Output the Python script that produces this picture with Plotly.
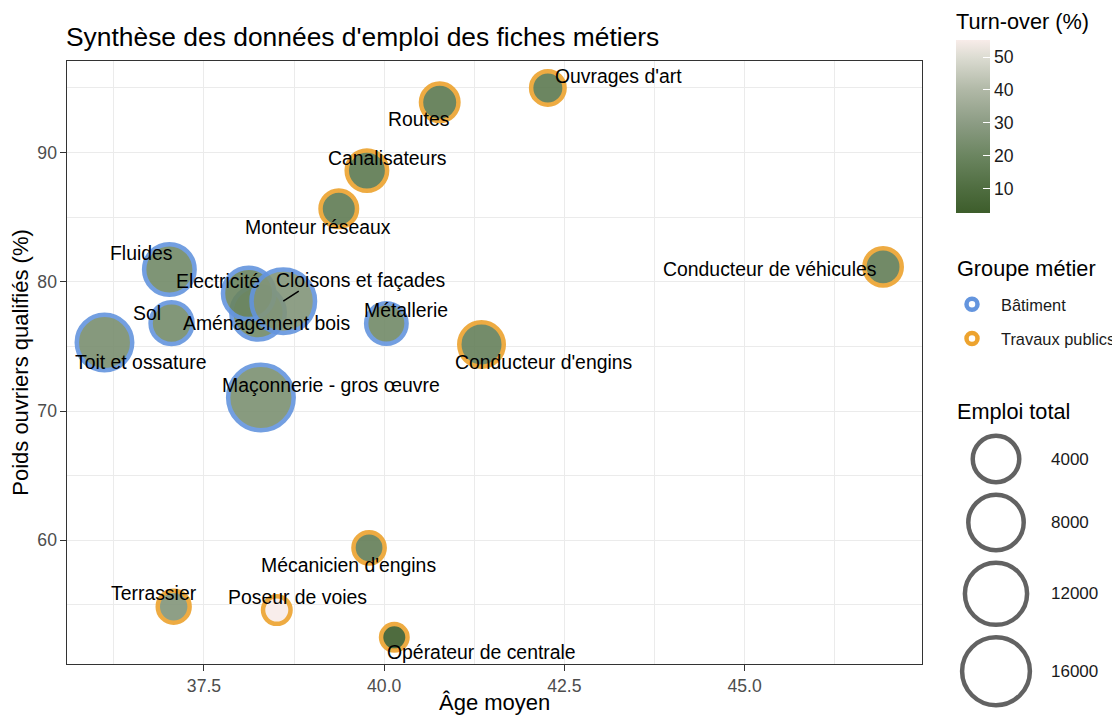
import numpy as np
import plotly.graph_objects as go

# ---------------- data ----------------
metiers = ["Aménagement bois", "Electricité", "Cloisons et façades", "Fluides", "Sol",
           "Toit et ossature", "Métallerie", "Maçonnerie - gros œuvre", "Routes",
           "Ouvrages d'art", "Canalisateurs", "Monteur réseaux", "Conducteur de véhicules",
           "Conducteur d'engins", "Mécanicien d'engins", "Terrassier", "Poseur de voies",
           "Opérateur de centrale"]
groupes = ["Bâtiment"] * 8 + ["Travaux publics"] * 10
age_moyen = [38.25, 38.12, 38.60, 37.02, 37.05, 36.12, 40.03, 38.29, 40.77,
             42.27, 39.76, 39.37, 46.92, 41.35, 39.79, 37.08, 38.51, 40.14]
poids_oq = [77.6, 79.1, 78.5, 80.95, 76.8, 75.3, 76.77, 71.05, 93.88,
            95.0, 88.6, 85.65, 81.15, 75.15, 59.42, 54.86, 54.6, 52.49]
emploi_total = [7000, 6000, 12900, 5600, 2500, 8000, 2100, 14300, 1430,
                770, 2100, 1240, 1400, 3300, 530, 590, 332, 323]
turnover = [22, 20, 27, 22, 23, 24, 22, 25, 15,
            15, 15, 16, 17, 18, 17, 27, 55.2, 2.5]

size_breaks = [4000, 8000, 12000, 16000]
x_ticks = [37.5, 40.0, 42.5, 45.0]
x_ticktext = ["37.5", "40.0", "42.5", "45.0"]
y_ticks = [60, 70, 80, 90]
cb_ticks = [10, 20, 30, 40, 50]

# label offsets (pixels, dx right, dy down) relative to each bubble
label_dx = [8, -31, 77, -28, -25, 37, 20, 70, -21, 71, 21, -21, -114, 62, -21, -20, 21, 87]
label_dy = [10, -12, -21, -17, -10, 19, -14, -12, 17, -12, -13, 18, 2, 18, 17, -14, -13, 15]

# ---------------- style ----------------
W, H = 1120, 716
OFF = 8  # page offset of the figure inside the browser page
FONT = "Liberation Sans, Arial, sans-serif"
GROUP_COL = {"Bâtiment": "#6495DE", "Travaux publics": "#EDA32E"}
colorscale = [[0.0, "#3D5D2B"], [0.14, "#4F6D40"], [0.33, "#6B8560"], [0.52, "#8C9C84"],
              [0.71, "#B0B8A6"], [0.90, "#DCDCD2"], [1.0, "#F8ECE9"]]
LINE_W = 4.5
D_MIN, K_SIZE = 31.0, 0.33
E_MIN = min(emploi_total)


def outer_diam(e):
    return D_MIN + K_SIZE * np.sqrt(np.maximum(np.asarray(e, float) - E_MIN, 0))


def fx(px):  # page pixel -> paper fraction (x)
    return (px - OFF) / W


def fy(px):  # page pixel -> paper fraction (y)
    return 1 - (px - OFF) / H


# panel frame in page pixels
PX_L, PX_R, PX_T, PX_B = 67, 922, 61, 664

fig = go.Figure()

sizes = outer_diam(emploi_total) - LINE_W
fig.add_trace(go.Scatter(
    x=age_moyen, y=poids_oq, mode="markers", text=metiers,
    hovertemplate="%{text}<extra></extra>", showlegend=False,
    marker=dict(size=sizes, sizemode="diameter", color=turnover, colorscale=colorscale,
                opacity=0.9,
                line=dict(color=[GROUP_COL[g] for g in groupes], width=LINE_W),
                showscale=True,
                colorbar=dict(
                    title=dict(text="Turn-over (%)", side="top",
                               font=dict(size=21.7, color="black", family=FONT)),
                    x=fx(956), xanchor="left", xpad=0,
                    y=fy(10), yanchor="top", ypad=0,
                    len=203, lenmode="pixels", thickness=34,
                    tickvals=cb_ticks, ticks="inside", ticklen=7, tickcolor="white",
                    tickwidth=1, outlinewidth=0,
                    tickfont=dict(size=17.6, color="#1A1A1A", family=FONT))),
))

# group legend entries
for g in ["Bâtiment", "Travaux publics"]:
    fig.add_trace(go.Scatter(
        x=[None], y=[None], mode="markers", name=g, legendgroup=g,
        marker=dict(size=11, color="white", line=dict(color=GROUP_COL[g], width=4.5))))

# size legend drawn on a page-pixel helper axis
d_leg = outer_diam(size_breaks)
leg_y = [459.0]
for i in range(1, len(d_leg)):
    leg_y.append(leg_y[-1] + (d_leg[i - 1] + d_leg[i]) / 2 + 8)
fig.add_trace(go.Scatter(
    x=[996] * len(size_breaks), y=leg_y, mode="markers", showlegend=False,
    hoverinfo="skip", xaxis="x2", yaxis="y2",
    marker=dict(size=d_leg - 4.5, color="white", line=dict(color="#202020", width=4.5))))

annotations = []
for i, v in enumerate(size_breaks):
    annotations.append(dict(x=1049, y=leg_y[i], xref="x2", yref="y2", text=str(v),
                            showarrow=False, xanchor="left", yanchor="middle",
                            font=dict(size=17, color="#1A1A1A", family=FONT)))
annotations.append(dict(x=955, y=411, xref="x2", yref="y2", text="Emploi total",
                        showarrow=False, xanchor="left", yanchor="middle",
                        font=dict(size=21.7, color="black", family=FONT)))
annotations.append(dict(x=955, y=268, xref="x2", yref="y2", text="Groupe métier",
                        showarrow=False, xanchor="left", yanchor="middle",
                        font=dict(size=21.7, color="black", family=FONT)))
# x axis title
annotations.append(dict(x=(PX_L + PX_R) / 2, y=702, xref="x2", yref="y2", text="Âge moyen",
                        showarrow=False, xanchor="center", yanchor="middle",
                        font=dict(size=22, color="black", family=FONT)))

# point labels
for i, m in enumerate(metiers):
    annotations.append(dict(x=age_moyen[i], y=poids_oq[i], xref="x", yref="y", text=m,
                            showarrow=False, xanchor="center", yanchor="middle",
                            xshift=label_dx[i], yshift=-label_dy[i],
                            font=dict(size=19.4, color="black", family=FONT)))
# leader segment for "Cloisons et façades"
ci = metiers.index("Cloisons et façades")
annotations.append(dict(x=age_moyen[ci], y=poids_oq[ci], xref="x", yref="y", text="",
                        showarrow=True, arrowhead=0, arrowwidth=1.6, arrowcolor="black",
                        ax=17, ay=-11, axref="pixel", ayref="pixel", standoff=0))

axis_common = dict(ticks="outside", ticklen=5.5, tickwidth=1.1, tickcolor="#333333",
                   tickfont=dict(size=17.6, color="#4D4D4D", family=FONT),
                   showgrid=True, gridcolor="#EBEBEB", gridwidth=1.1,
                   showline=True, mirror=True, linecolor="#333333", linewidth=1.1,
                   zeroline=False)

fig.update_layout(
    width=W, height=H, margin=dict(l=0, r=0, t=0, b=0),
    paper_bgcolor="white", plot_bgcolor="rgba(0,0,0,0)",
    font=dict(family=FONT, color="black"),
    title=dict(text="Synthèse des données d'emploi des fiches métiers", x=fx(66),
               xanchor="left", y=fy(37), yanchor="middle", xref="paper", yref="paper",
               font=dict(size=26.4, color="black", family=FONT)),
    xaxis=dict(domain=[fx(PX_L), fx(PX_R)], range=[35.60, 47.46], tickvals=x_ticks,
               ticktext=x_ticktext,
               minor=dict(dtick=1.25, tick0=36.25, showgrid=True, gridcolor="#EBEBEB",
                          gridwidth=0.55, ticks=""),
               **axis_common),
    yaxis=dict(domain=[fy(PX_B), fy(PX_T)], range=[50.43, 97.08], tickvals=y_ticks,
               minor=dict(dtick=5, tick0=55, showgrid=True, gridcolor="#EBEBEB",
                          gridwidth=0.55, ticks=""),
               title=dict(text="Poids ouvriers qualifiés (%)", standoff=2,
                          font=dict(size=22, color="black", family=FONT)),
               **axis_common),
    xaxis2=dict(domain=[0, 1], range=[OFF, W + OFF], visible=False, anchor="y2",
                fixedrange=True),
    yaxis2=dict(domain=[0, 1], range=[H + OFF, OFF], visible=False, anchor="x2",
                fixedrange=True),
    legend=dict(font=dict(size=16.4, color="#1A1A1A", family=FONT),
                x=fx(943), xanchor="left", y=fy(287), yanchor="top",
                bgcolor="rgba(0,0,0,0)", tracegroupgap=10, itemsizing="trace",
                itemwidth=48),
    annotations=annotations,
    showlegend=True,
)

fig.write_html("out.html")
